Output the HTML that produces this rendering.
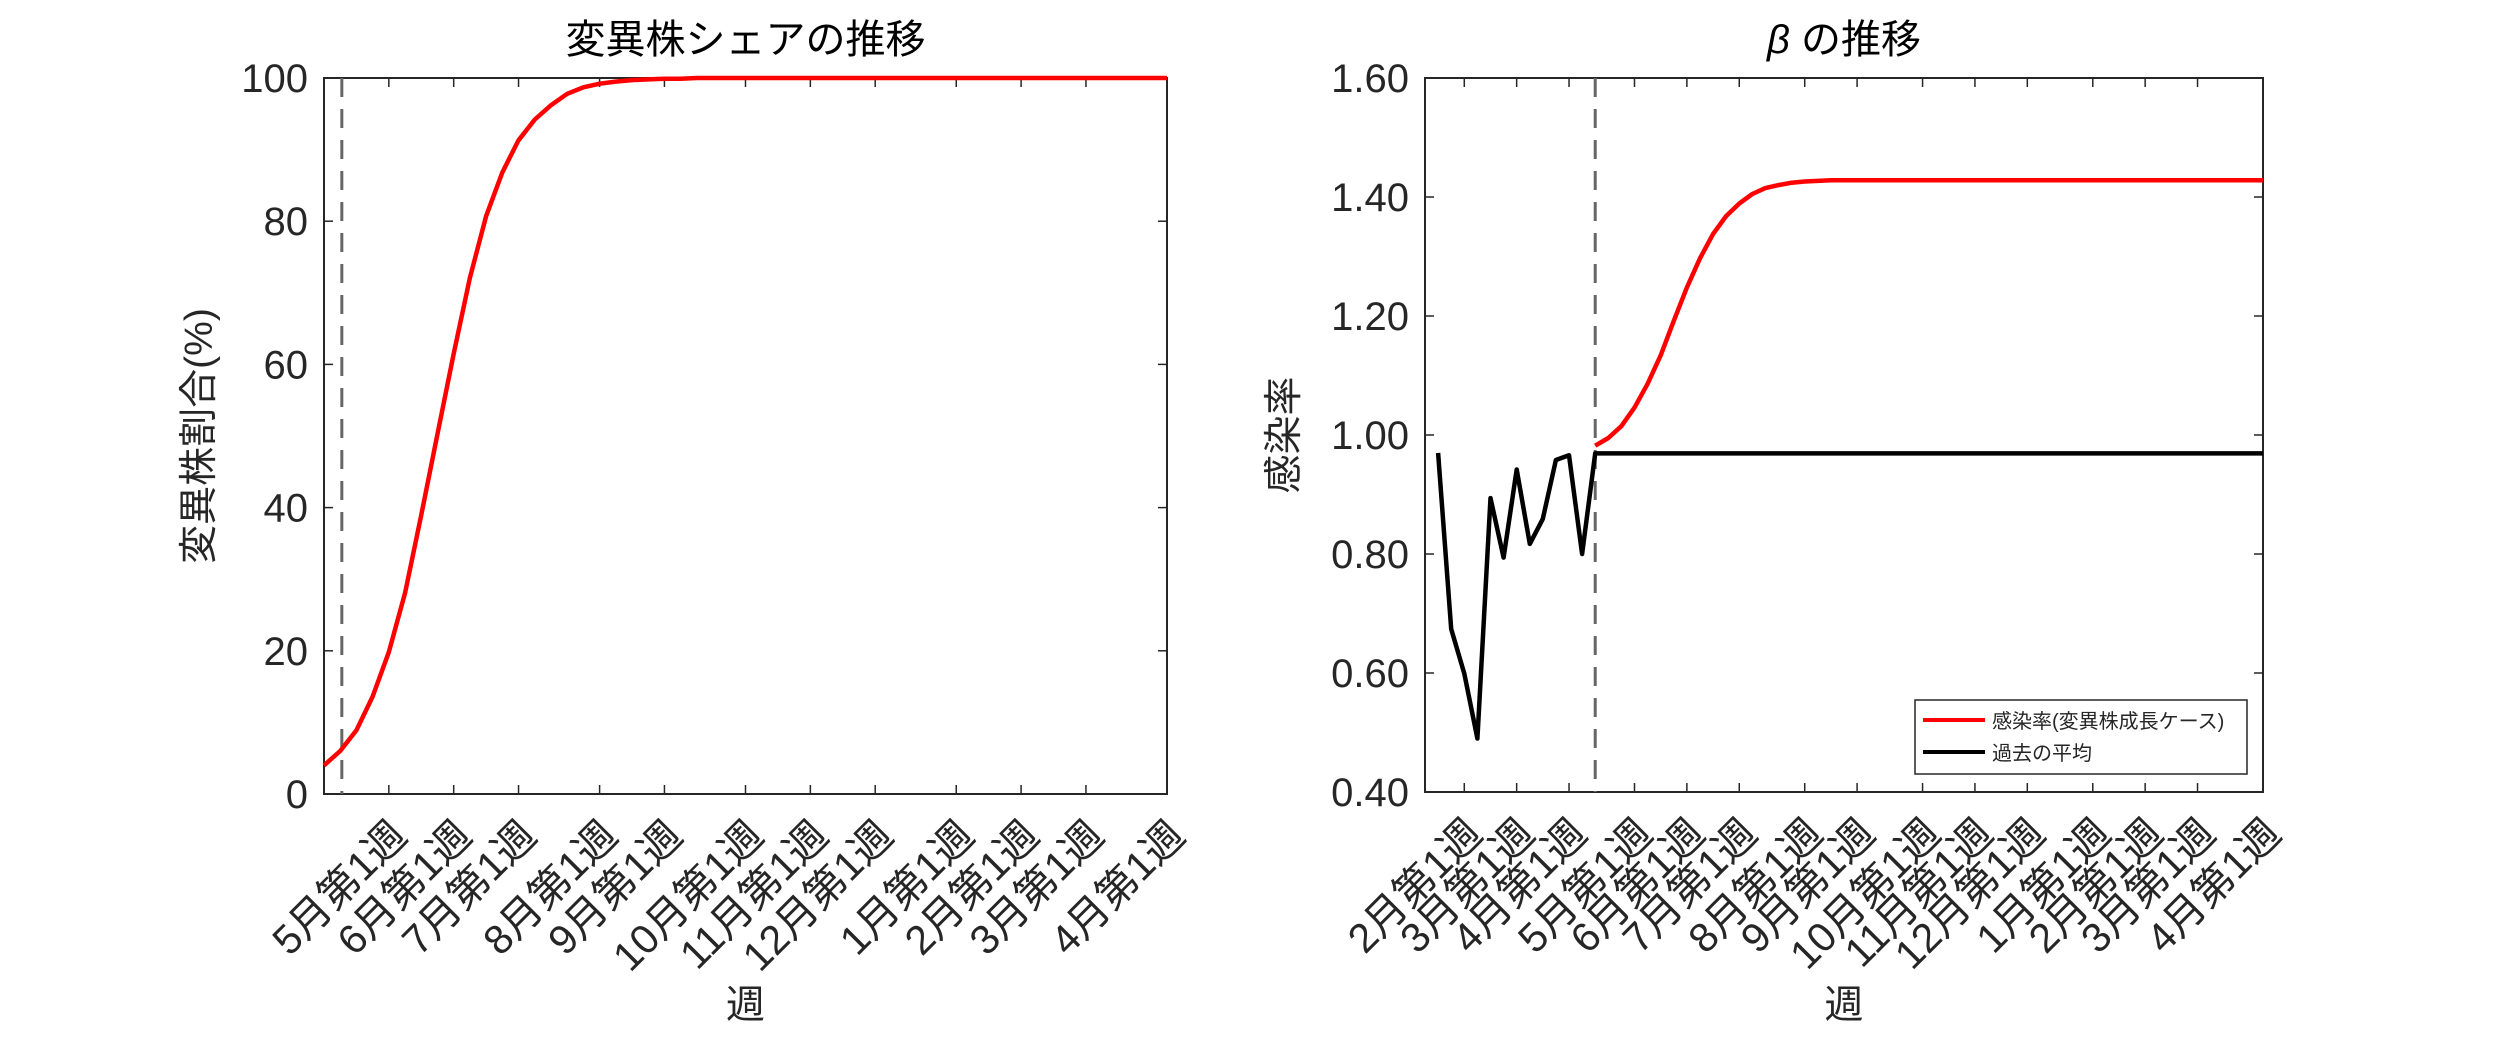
<!DOCTYPE html>
<html><head><meta charset="utf-8"><style>
body{margin:0;background:#fff}
svg text{font-family:"Liberation Sans","Noto Sans CJK JP",sans-serif;fill:#262626}
</style></head><body>
<svg id="s" width="2500" height="1042" xmlns="http://www.w3.org/2000/svg">
<rect width="2500" height="1042" fill="#fff"/>
<g id="L"></g>
<g id="R"></g>
</svg>
<script>
const NS="http://www.w3.org/2000/svg";
// Left chart data
const leftShare=[4.0,6.0,8.9,13.6,19.8,28.1,39.0,50.3,61.5,72.1,80.7,86.8,91.3,94.2,96.2,97.8,98.7,99.2,99.5,99.7,99.8,99.9,99.9,100,100,100,100,100,100,100,100,100,100,100,100,100,100,100,100,100,100,100,100,100,100,100,100,100,100,100,100,100,100];
const leftTickWeeks=[4,8,12,17,21,26,30,34,39,43,47,52];
const leftTickLabels=["5月第1週","6月第1週","7月第1週","8月第1週","9月第1週","10月第1週","11月第1週","12月第1週","1月第1週","2月第1週","3月第1週","4月第1週"];
const leftYTicks=[0,20,40,60,80,100];
const leftDash=1.1;
// Right chart data
const pastBeta=[0.970,0.674,0.599,0.490,0.894,0.794,0.942,0.817,0.859,0.958,0.966,0.800,0.969];
const avgBeta=0.969;
const variantBeta=[0.982,0.995,1.015,1.046,1.086,1.134,1.192,1.248,1.297,1.338,1.368,1.389,1.405,1.415,1.420,1.424,1.426,1.427,1.428];
const rightTickWeeks=[3,7,11,16,20,24,29,33,38,42,46,51,55,59,64];
const rightTickLabels=["2月第1週","3月第1週","4月第1週","5月第1週","6月第1週","7月第1週","8月第1週","9月第1週","10月第1週","11月第1週","12月第1週","1月第1週","2月第1週","3月第1週","4月第1週"];
const rightYTicks=[0.4,0.6,0.8,1.0,1.2,1.4,1.6];
const rightDash=13;

function el(p,t,a,txt){const e=document.createElementNS(NS,t);for(const k in a)e.setAttribute(k,a[k]);if(txt!=null)e.textContent=txt;p.appendChild(e);return e;}

function axes(g,o){
  const X=v=>o.x0+(v-o.xmin)/(o.xmax-o.xmin)*(o.x1-o.x0);
  const Y=v=>o.y1-(v-o.ymin)/(o.ymax-o.ymin)*(o.y1-o.y0);
  const box=el(g,'rect',{x:o.x0,y:o.y0,width:o.x1-o.x0,height:o.y1-o.y0,fill:'none',stroke:'#262626','stroke-width':2});
  
  
  o.yt.forEach(v=>{
    const y=Y(v);
    el(g,'line',{x1:o.x0,x2:o.x0+9,y1:y,y2:y,stroke:'#262626','stroke-width':1.5});
    el(g,'line',{x1:o.x1,x2:o.x1-9,y1:y,y2:y,stroke:'#262626','stroke-width':1.5});
    const t=el(g,'text',{x:o.x0-16,y:y+14,'text-anchor':'end','font-size':40},o.yfmt(v));
    
    
  });
  o.xt.forEach((w,i)=>{
    const x=X(w);
    el(g,'line',{x1:x,x2:x,y1:o.y1,y2:o.y1-9,stroke:'#262626','stroke-width':1.5});
    el(g,'line',{x1:x,x2:x,y1:o.y0,y2:o.y0+9,stroke:'#262626','stroke-width':1.5});
    const t=el(g,'text',{x:0,y:0,'text-anchor':'end','font-size':41,transform:`translate(${x+20},${o.y1+44}) rotate(-45)`},o.xl[i]);
    
    
  });
  const d=el(g,'line',{x1:X(o.dash),x2:X(o.dash),y1:o.y0,y2:o.y1,stroke:'#666','stroke-width':3,'stroke-dasharray':'19,12'});
  
  
  const tt=el(g,'text',{x:(o.x0+o.x1)/2,y:53,'text-anchor':'middle','font-size':40,style:'fill:#000'});
  tt.innerHTML=o.title;
  
  
  const xl=el(g,'text',{x:(o.x0+o.x1)/2,y:1018,'text-anchor':'middle','font-size':39},'週');
  
  
  const yl=el(g,'text',{x:0,y:0,'text-anchor':'middle','font-size':39,transform:`translate(${o.ylx},${(o.y0+o.y1)/2}) rotate(-90)`},o.ylabel);
  
  
  return {X,Y};
}
function path(g,pts,color,name){
  const p=el(g,'polyline',{points:pts.map(q=>q[0].toFixed(1)+','+q[1].toFixed(1)).join(' '),fill:'none',stroke:color,'stroke-width':4.5,'stroke-linejoin':'round'});
  
  
}
const L=document.getElementById('L');
const a=axes(L,{x0:324,x1:1167,y0:78,y1:794,xmin:0,xmax:52,ymin:0,ymax:100,yt:leftYTicks,yfmt:v=>String(v),xt:leftTickWeeks,xl:leftTickLabels,dash:leftDash,title:'変異株シェアの推移',ylabel:'変異株割合(%)',ylx:212});
path(L,leftShare.map((v,i)=>[a.X(i),a.Y(v)]),'#ff0000','variant-share-line');

const R=document.getElementById('R');
const b=axes(R,{x0:1425,x1:2263,y0:78,y1:792,xmin:0,xmax:64,ymin:0.4,ymax:1.6,yt:rightYTicks,yfmt:v=>v.toFixed(2),xt:rightTickWeeks,xl:rightTickLabels,dash:rightDash,title:'<tspan font-style="italic">β</tspan> の推移',ylabel:'感染率',ylx:1297});
const blk=pastBeta.map((v,i)=>[b.X(i+1),b.Y(v)]);
blk.push([b.X(64),b.Y(avgBeta)]);
path(R,blk,'#000','past-average-line');
path(R,variantBeta.map((v,i)=>[b.X(13+i),b.Y(v)]).concat([[b.X(64),b.Y(variantBeta[variantBeta.length-1])]]),'#ff0000','variant-beta-line');
// legend
const lg=el(R,'g',{});


el(lg,'rect',{x:1915,y:700,width:332,height:74,fill:'#fff',stroke:'#262626','stroke-width':1.5});
el(lg,'line',{x1:1923,x2:1985,y1:720,y2:720,stroke:'#f00','stroke-width':4});
const l1=el(lg,'text',{x:1992,y:728,'font-size':20},'感染率(変異株成長ケース)');


el(lg,'line',{x1:1923,x2:1985,y1:752,y2:752,stroke:'#000','stroke-width':4});
const l2=el(lg,'text',{x:1992,y:760,'font-size':20},'過去の平均');


</script>
</body></html>
